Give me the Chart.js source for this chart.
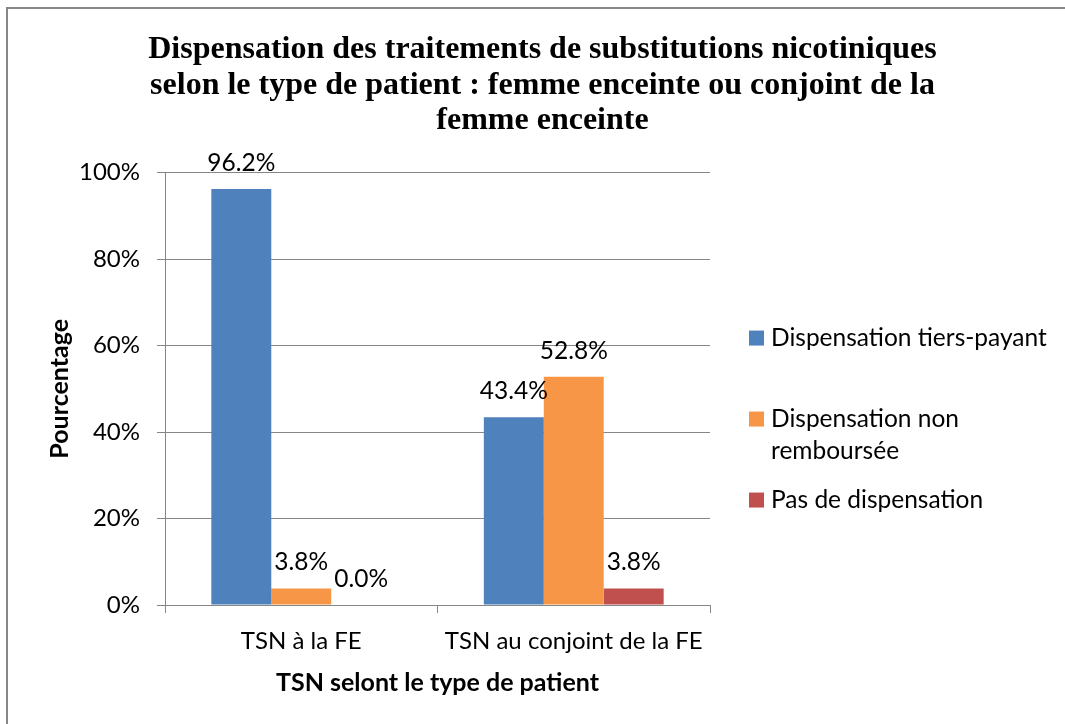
<!DOCTYPE html>
<html>
<head>
<meta charset="utf-8">
<script src="https://cdn.jsdelivr.net/npm/chart.js@4"></script>
<style>
  html, body { margin: 0; padding: 0; background: #fff; overflow: hidden; }
  #wrap { position: relative; width: 1065px; height: 724px; }
  #chart { display: block; }
  #frame {
    position: absolute; left: 6px; top: 7px; width: 1059px; height: 717px;
    box-sizing: border-box;
    border-top: 2px solid #878787; border-left: 2px solid #878787;
    pointer-events: none;
  }
</style>
</head>
<body>
<div id="wrap">
  <canvas id="chart" width="1065" height="724"></canvas>
  <div id="frame"></div>
</div>
<script>
// Data
const categories = ['TSN à la FE', 'TSN au conjoint de la FE'];
const tiersPayant = [96.2, 43.4];
const nonRemboursee = [3.8, 52.8];
const pasDispensation = [0.0, 3.8];
const seriesLabels = ['Dispensation tiers-payant', 'Dispensation non remboursée', 'Pas de dispensation'];
const yTicks = [0, 20, 40, 60, 80, 100];

const colors = ['#4F81BD', '#F79646', '#C0504D'];
const gridColor = '#868686';
const textFont = 'Lato, "Open Sans", sans-serif';

// Value labels above each bar
const valueLabels = {
  id: 'valueLabels',
  afterDatasetsDraw(chart) {
    const ctx = chart.ctx;
    ctx.save();
    ctx.font = '24.5px ' + textFont;
    ctx.fillStyle = '#000';
    ctx.textAlign = 'center';
    ctx.textBaseline = 'middle';
    chart.data.datasets.forEach((ds, i) => {
      chart.getDatasetMeta(i).data.forEach((bar, j) => {
        ctx.fillText(ds.data[j].toFixed(1) + '%', bar.x, bar.y - 26);
      });
    });
    ctx.restore();
  }
};

// Legend on the right, with word wrapping
const sideLegend = {
  id: 'sideLegend',
  afterDraw(chart) {
    const ctx = chart.ctx;
    const area = chart.chartArea;
    const x = area.right + 39;
    const maxW = 285;
    const lineH = 32;
    const pitch = 81;
    const top = area.top + 150;
    ctx.save();
    ctx.font = '24.5px ' + textFont;
    ctx.textBaseline = 'middle';
    ctx.textAlign = 'left';
    chart.data.datasets.forEach((ds, i) => {
      // wrap label into lines
      const words = ds.label.split(' ');
      const lines = [];
      let cur = '';
      words.forEach(w => {
        const test = cur ? cur + ' ' + w : w;
        if (cur && ctx.measureText(test).width > maxW) {
          lines.push(cur);
          cur = w;
        } else {
          cur = test;
        }
      });
      lines.push(cur);
      const y0 = top + i * pitch + lineH / 2;
      ctx.fillStyle = ds.backgroundColor;
      ctx.fillRect(x, y0 - 8, 15, 15);
      ctx.fillStyle = '#000';
      lines.forEach((l, k) => ctx.fillText(l, x + 22, y0 + k * lineH));
    });
    ctx.restore();
  }
};

new Chart(document.getElementById('chart'), {
  type: 'bar',
  data: {
    labels: categories,
    datasets: [
      { label: seriesLabels[0], data: tiersPayant, backgroundColor: colors[0] },
      { label: seriesLabels[1], data: nonRemboursee, backgroundColor: colors[1] },
      { label: seriesLabels[2], data: pasDispensation, backgroundColor: colors[2] }
    ]
  },
  options: {
    responsive: false,
    animation: false,
    categoryPercentage: 0.66,
    barPercentage: 1.0,
    layout: { padding: { left: 20, top: 0, right: 0, bottom: 0 } },
    plugins: {
      legend: { display: false },
      tooltip: { enabled: false },
      title: {
        display: true,
        text: [
          'Dispensation des traitements de substitutions nicotiniques',
          'selon le type de patient : femme enceinte ou conjoint de la',
          'femme enceinte'
        ],
        color: '#000',
        font: { family: '"Liberation Serif", "Times New Roman", serif', size: 32, weight: 'bold', lineHeight: 1.11 },
        padding: { top: 32, bottom: 34 }
      }
    },
    scales: {
      x: {
        grid: { drawOnChartArea: false, color: gridColor, tickLength: 8 },
        border: { color: gridColor },
        ticks: { color: '#000', padding: 14, font: { family: textFont, size: 24 } },
        title: {
          display: true,
          text: 'TSN selont le type de patient',
          color: '#000',
          font: { family: textFont, size: 25, weight: 'bold' },
          padding: { top: 0, bottom: 26 }
        },
        afterFit(s) { s.height = 119; }
      },
      y: {
        min: 0,
        max: 100,
        afterBuildTicks(s) { s.ticks = yTicks.map(v => ({ value: v })); },
        grid: { color: gridColor, tickLength: 8 },
        border: { color: gridColor },
        ticks: {
          color: '#000',
          padding: 17,
          font: { family: textFont, size: 24 },
          callback: v => v + '%'
        },
        title: {
          display: true,
          text: 'Pourcentage',
          color: '#000',
          font: { family: textFont, size: 25, weight: 'bold' },
          padding: { top: 25, bottom: 0 }
        },
        afterFit(s) { s.width = 145; }
      },
      spacer: {
        type: 'linear',
        position: 'right',
        grid: { display: false },
        border: { display: false },
        ticks: { display: false },
        afterFit(s) { s.width = 355; }
      }
    }
  },
  plugins: [valueLabels, sideLegend]
});
</script>
</body>
</html>
